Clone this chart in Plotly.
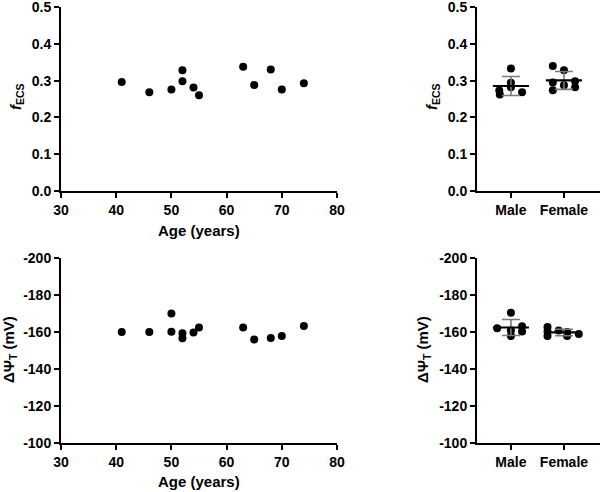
import plotly.graph_objects as go
import numpy as np

# ---- data ----
age = [41, 46, 50, 52, 52, 54, 55, 63, 65, 68, 70, 74]
fecs_age = [0.296, 0.268, 0.276, 0.328, 0.298, 0.281, 0.260, 0.338, 0.288, 0.330, 0.276, 0.293]

age_psi = [41, 46, 50, 50, 52, 52, 54, 55, 63, 65, 68, 70, 74]
psi_age = [-160.0, -160.0, -170.0, -160.2, -159.3, -156.6, -159.7, -162.5, -162.5, -155.9, -156.8, -157.9, -163.3]

sex_labels = ["Male", "Female"]
fecs_male = [0.333, 0.294, 0.282, 0.273, 0.262, 0.268]
fecs_female = [0.340, 0.328, 0.295, 0.287, 0.298, 0.274, 0.282]
psi_male = [-170.5, -162.1, -160.9, -163.2, -160.3, -157.8]
psi_female = [-162.7, -160.3, -157.8, -160.9, -160.0, -157.8, -159.0]

age_ticks = [30, 40, 50, 60, 70, 80]
fecs_ticks = [0.0, 0.1, 0.2, 0.3, 0.4, 0.5]
fecs_ticktext = ["0.0", "0.1", "0.2", "0.3", "0.4", "0.5"]
psi_ticks = [-200, -180, -160, -140, -120, -100]
psi_ticktext = ["-200", "-180", "-160", "-140", "-120", "-100"]

# scatter-dot spread (category units) for the grouped dot plots
fecs_male_spread = [0.0, 0.0, 0.0, -0.22, -0.21, 0.21]
fecs_female_spread = [-0.21, 0.0, -0.21, 0.0, 0.21, -0.21, 0.21]
psi_male_spread = [0.0, -0.26, 0.0, 0.21, 0.21, 0.0]
psi_female_spread = [-0.31, -0.31, -0.31, -0.1, 0.06, 0.06, 0.28]

FONT = "Liberation Sans, Arial, sans-serif"
fig = go.Figure()

def dots(x, y, xa, ya):
    fig.add_trace(go.Scatter(x=x, y=y, mode="markers", xaxis=xa, yaxis=ya,
                             marker=dict(color="black", size=8), showlegend=False,
                             hoverinfo="skip", cliponaxis=False))

dots(age, fecs_age, "x", "y")
dots(age_psi, psi_age, "x3", "y3")

def group(vals_list, spreads, xa, ya):
    for i, (vals, sp) in enumerate(zip(vals_list, spreads)):
        xs = [i + s for s in sp]
        dots(xs, vals, xa, ya)
        m = float(np.mean(vals)); sd = float(np.std(vals, ddof=1))
        fig.add_trace(go.Scatter(x=[i], y=[m], mode="markers", xaxis=xa, yaxis=ya,
                                 marker=dict(size=0.1, color="rgba(0,0,0,0)"),
                                 error_y=dict(type="data", array=[sd], visible=True,
                                              color="#7a7a7a", thickness=1.6, width=9),
                                 showlegend=False, hoverinfo="skip"))
        fig.add_trace(go.Scatter(x=[i - 0.34, i + 0.34], y=[m, m], mode="lines",
                                 xaxis=xa, yaxis=ya, line=dict(color="black", width=2.2),
                                 showlegend=False, hoverinfo="skip"))

group([fecs_male, fecs_female], [fecs_male_spread, fecs_female_spread], "x2", "y2")
group([psi_male, psi_female], [psi_male_spread, psi_female_spread], "x4", "y4")

tickfont = dict(family=FONT, size=14, color="black", weight="bold")
axcommon = dict(showline=True, linecolor="black", linewidth=2, ticks="outside",
                ticklen=5, tickwidth=2, tickcolor="black", showgrid=False,
                zeroline=False, tickfont=tickfont, automargin=False,
                ticklabeloverflow="allow")

W, H = 600, 492
xl = [61 / W, 337 / W]
xr = [477 / W, 1.0]
yt = [1 - 190.7 / H, 1 - 7.2 / H]
yb = [1 - 442.7 / H, 1 - 258.3 / H]

fig.update_layout(
    width=W, height=H, margin=dict(l=0, r=0, t=0, b=0),
    paper_bgcolor="white", plot_bgcolor="white",
    xaxis=dict(domain=xl, anchor="y", range=[30, 80], tickvals=age_ticks, **axcommon),
    yaxis=dict(domain=yt, anchor="x", range=[0, 0.5], tickvals=fecs_ticks, ticktext=fecs_ticktext, **axcommon),
    xaxis2=dict(domain=xr, anchor="y2", range=[-0.64, 1.68], tickvals=[0, 1], ticktext=sex_labels, **axcommon),
    yaxis2=dict(domain=yt, anchor="x2", range=[0, 0.5], tickvals=fecs_ticks, ticktext=fecs_ticktext, **axcommon),
    xaxis3=dict(domain=xl, anchor="y3", range=[30, 80], tickvals=age_ticks, **axcommon),
    yaxis3=dict(domain=yb, anchor="x3", range=[-100, -200], tickvals=psi_ticks, ticktext=psi_ticktext, **axcommon),
    xaxis4=dict(domain=xr, anchor="y4", range=[-0.64, 1.68], tickvals=[0, 1], ticktext=sex_labels, **axcommon),
    yaxis4=dict(domain=yb, anchor="x4", range=[-100, -200], tickvals=psi_ticks, ticktext=psi_ticktext, **axcommon),
)

tfont = dict(family=FONT, size=15, color="black", weight="bold")
def ann(text, x, y, angle=0):
    fig.add_annotation(text=text, x=x / W, y=1 - y / H, xref="paper", yref="paper",
                       showarrow=False, textangle=angle, font=tfont,
                       xanchor="center", yanchor="middle")

ann("Age (years)", 199, 230)
ann("Age (years)", 199, 481)
fecs_title = "<i>f</i><sub>ECS</sub>"
ann(fecs_title, 16, 97, -90)
ann(fecs_title, 432, 97, -90)
psi_title = "ΔΨ<sub>T</sub> (mV)"
ann(psi_title, 9, 350, -90)
ann(psi_title, 423, 350, -90)

fig.write_html("out.html", config={"displayModeBar": False},
               post_script="document.body.style.margin='0';document.body.style.overflow='hidden';")
